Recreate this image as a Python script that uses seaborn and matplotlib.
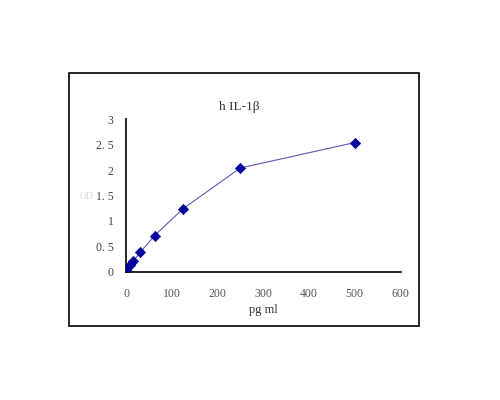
import matplotlib
matplotlib.use("Agg")
import matplotlib.pyplot as plt
from matplotlib.patches import Rectangle
import pandas as pd
import seaborn as sns

# standard curve readings
conc = [0, 7.8, 15.6, 31.25, 62.5, 125, 250, 500]
od = [0.04, 0.13, 0.20, 0.38, 0.71, 1.24, 2.04, 2.54]

x_ticks = [0, 100, 200, 300, 400, 500, 600]
y_ticks = [0, 0.5, 1, 1.5, 2, 2.5, 3]
y_tick_labels = ["0", "0. 5", "1", "1. 5", "2", "2. 5", "3"]

TITLE = "h IL-1\u03b2"
X_LABEL = "pg ml"
Y_LABEL = "OD"


def main():
    sns.set_style("white")
    plt.rcParams["font.family"] = ["Liberation Serif", "DejaVu Serif"]

    data = pd.DataFrame({"conc": conc, "od": od})

    fig = plt.figure(figsize=(5, 4), dpi=100)
    fig.patches.append(Rectangle((0.138, 0.185), 0.700, 0.6325,
                                 transform=fig.transFigure, fill=False,
                                 edgecolor="black", linewidth=1.2))

    ax = fig.add_axes([0.252, 0.321, 0.549, 0.381])
    sns.lineplot(data=data, x="conc", y="od", ax=ax,
                 color="#5a5ab8", linewidth=0.8)
    sns.scatterplot(data=data, x="conc", y="od", ax=ax, marker="D",
                    s=28, color="#000099", edgecolor="#000099", zorder=3)

    ax.set_xlim(0, 600)
    ax.set_ylim(0, 3)
    ax.set_xticks(x_ticks)
    ax.set_yticks(y_ticks)
    ax.set_yticklabels(y_tick_labels)
    ax.tick_params(direction="in", length=4, width=1, labelsize=8.5,
                   colors="black")
    ax.tick_params(axis="x", labelcolor="#555555", pad=12)
    ax.tick_params(axis="y", labelcolor="#444444", pad=9)
    for side in ["top", "right"]:
        ax.spines[side].set_visible(False)
    for side in ["left", "bottom"]:
        ax.spines[side].set_color("black")
        ax.spines[side].set_linewidth(1.2)
    ax.set_clip_on(False)

    ax.set_xlabel(X_LABEL, fontsize=9, color="#333333", labelpad=3)
    ax.set_ylabel("")
    fig.text(0.174, 0.508, Y_LABEL, fontsize=7, color="#d8d8d8",
             ha="center", va="center")
    fig.text(0.478, 0.733, TITLE, fontsize=9.5, color="#333333",
             ha="center", va="center")

    fig.savefig("out.png", dpi=100)


if __name__ == "__main__":
    main()
